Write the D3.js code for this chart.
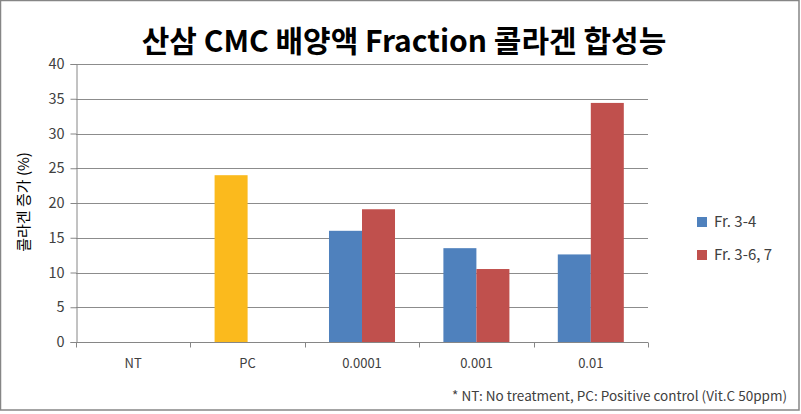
<!DOCTYPE html>
<html><head><meta charset="utf-8">
<script src="https://cdn.jsdelivr.net/npm/d3@7"></script>
<style>body{margin:0;background:#fff}svg{display:block}text{font-family:"Noto Sans CJK KR","Noto Sans",sans-serif}</style>
</head><body><svg id="c" width="801" height="414"></svg>
<script>
const title = "산삼 CMC 배양액 Fraction 콜라겐 합성능";
const yTitle = "콜라겐 증가 (%)";
const footnote = "* NT: No treatment, PC: Positive control (Vit.C 50ppm)";
const categories = ["NT", "PC", "0.0001", "0.001", "0.01"];
const seriesNames = ["Fr. 3-4", "Fr. 3-6, 7"];
const seriesColors = ["#4F81BD", "#C0504D"];
const pcColor = "#FBBA1D";
const fr34 = [null, 24, 16, 13.5, 12.6];
const fr367 = [null, null, 19.1, 10.5, 34.4];
const yTicks = [0, 5, 10, 15, 20, 25, 30, 35, 40];

const svg = d3.select("#c");
svg.append("rect").attr("x",0.5).attr("y",0.5).attr("width",798.5).attr("height",409.5)
  .attr("fill","#fff").attr("stroke","#868686").attr("stroke-width",1.5);

const L = 76, R = 648, T = 64, B = 342;
const x = d3.scaleBand().domain(categories).range([L, R]).paddingInner(0).paddingOuter(0);
const y = d3.scaleLinear().domain([0, 40]).range([B, T]);
const xs = d3.scaleBand().domain([0,1]).range([0, x.bandwidth()]).paddingInner(0).paddingOuter(0.733);

// gridlines
svg.append("g").selectAll("line").data(yTicks.filter(d=>d>0)).join("line")
  .attr("x1", L).attr("x2", R).attr("y1", d=>Math.round(y(d))+0.5).attr("y2", d=>Math.round(y(d))+0.5)
  .attr("stroke", "#8c8c8c").attr("stroke-width", 1.2);

// y axis
const yAxis = svg.append("g").attr("transform", `translate(${L+0.5},0)`)
  .call(d3.axisLeft(y).tickValues(yTicks).tickSize(6).tickPadding(6));
yAxis.select(".domain").attr("stroke","#868686");
yAxis.selectAll(".tick line").attr("stroke","#868686");
yAxis.selectAll(".tick text").attr("font-size",14.5).attr("fill","#404040");

// x axis
const xAxisG = svg.append("g").attr("transform", `translate(0,${B+0.5})`);
xAxisG.append("line").attr("x1",L).attr("x2",R).attr("stroke","#868686");
xAxisG.selectAll("line.tk").data(categories.map((c,i)=>i).concat([categories.length])).join("line")
  .attr("class","tk")
  .attr("x1", i=> Math.round(i<categories.length ? x(categories[i]) : R)+0.5)
  .attr("x2", i=> Math.round(i<categories.length ? x(categories[i]) : R)+0.5)
  .attr("y1",0).attr("y2",5).attr("stroke","#868686");
xAxisG.selectAll("text").data(categories).join("text")
  .attr("x", d=>x(d)+x.bandwidth()/2).attr("y", 25)
  .attr("text-anchor","middle").attr("font-size",13).attr("fill","#404040").text(d=>d);

// bars
const series = [fr34, fr367];
series.forEach((vals, si) => {
  svg.append("g").selectAll("rect").data(categories.map((c,i)=>({c, v: vals[i]})).filter(d=>d.v!=null)).join("rect")
    .attr("x", d => x(d.c) + xs(si))
    .attr("width", xs.bandwidth())
    .attr("y", d => y(d.v))
    .attr("height", d => y(0) - y(d.v))
    .attr("fill", d => (d.c === "PC" ? pcColor : seriesColors[si]));
});

// title
svg.append("text").attr("x", 404).attr("y", 52).attr("text-anchor","middle")
  .attr("font-size", 30).attr("font-weight","bold").attr("fill","#000").text(title);

// y title
svg.append("text").attr("transform","translate(29,202) rotate(-90)").attr("text-anchor","middle")
  .attr("font-size",15).attr("fill","#000").text(yTitle);

// legend
const lg = svg.append("g");
seriesNames.forEach((n,i)=>{
  const yy = 217 + i*33;
  lg.append("rect").attr("x",697).attr("y",yy).attr("width",10).attr("height",10).attr("fill",seriesColors[i]);
  lg.append("text").attr("x",714).attr("y",yy+10).attr("font-size",15).attr("fill","#404040").text(n);
});

// footnote
svg.append("text").attr("x",787).attr("y",401).attr("text-anchor","end")
  .attr("font-size",13.5).attr("fill","#404040").text(footnote);
</script></body></html>
